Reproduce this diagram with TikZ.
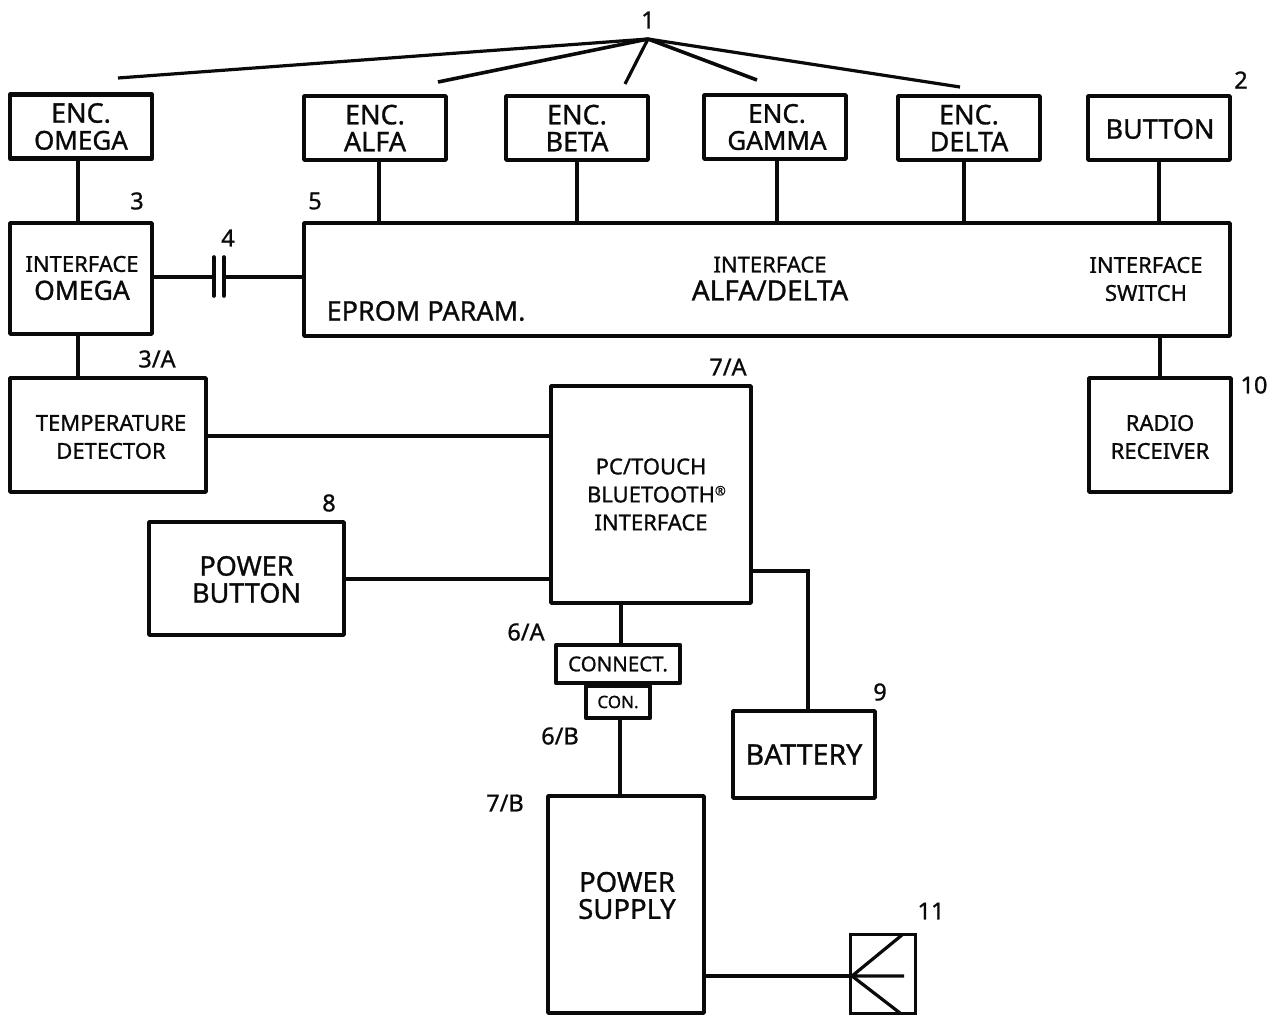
\documentclass[tikz,border=0pt]{standalone}
\usepackage{fontspec}
\setmainfont[RawFeature={embolden=1.0}]{Noto Sans}
\usetikzlibrary{positioning}
\definecolor{Ink}{HTML}{0A0A0A}

\begin{document}
\begin{tikzpicture}[
  x=1pt,y=-1pt,
  node distance=40pt and 40pt,
  box/.style={
    draw=Ink,fill=white,line width=3.5pt,line join=round,inner sep=0pt,outer sep=0pt,
    align=center,text=Ink,font=\fontsize{27}{27}\selectfont
  },
  enc/.style={box,minimum width=142pt,minimum height=64pt},
  small/.style={font=\fontsize{22}{28}\selectfont},
  caption/.style={text=Ink,inner sep=0pt,align=center},
  tag/.style={inner sep=0pt,text=Ink,font=\fontsize{23.5}{24}\selectfont},
  wire/.style={draw=Ink,line width=3.6pt},
  thin/.style={draw=Ink,line width=3.2pt}
]
  \useasboundingbox (0,0) rectangle (1277,1015);

  % top row
  \node[enc,line width=4.2pt] (encomega) at (81,126.5) {ENC.\\{\fontsize{26}{27}\selectfont OMEGA}};
  \node[enc,right=152pt of encomega,yshift=-1.5pt] (encalfa) {ENC.\\ALFA};
  \node[enc,right=60pt of encalfa] (encbeta) {ENC.\\BETA};
  \node[enc,right=56pt of encbeta,yshift=1pt] (encgamma) {};
  \node[caption,font=\fontsize{26}{27}\selectfont] (encgammatext) at ([xshift=2pt]encgamma.center) {ENC.\\GAMMA};
  \node[enc,right=52pt of encgamma,yshift=-1pt] (encdelta) {ENC.\\DELTA};
  \node[enc,right=48pt of encdelta] (button) {};
  \node[caption,font=\fontsize{27}{27}\selectfont] (buttontext) at ([xshift=1pt,yshift=-1pt]button.center) {BUTTON};

  % interfaces
  \node[box,minimum width=142pt,minimum height=111pt] (ifomega) at (81,278.5) {};
  \node[box,minimum width=926pt,minimum height=113pt] (bus) at (767,279.5) {};
  \node[caption,small] (ifomegatext) at (82,278) {INTERFACE\\{\fontsize{26.5}{28}\selectfont OMEGA}};
  \node[caption,small] (ifalfatext) at (770,278.5) {INTERFACE\\{\fontsize{28}{28}\selectfont ALFA/DELTA}};
  \node[caption,small] (ifswitchtext) at (1146,279) {INTERFACE\\SWITCH};
  \node[caption,font=\fontsize{27}{27}\selectfont] (eprom) at (426,311) {EPROM PARAM.};

  % lower blocks
  \node[box,minimum width=196pt,minimum height=114pt] (temp) at (108,435) {};
  \node[caption,small] (temptext) at ([xshift=3pt,yshift=-2pt]temp.center) {TEMPERATURE\\DETECTOR};
  \node[box,small,minimum width=200pt,minimum height=217pt] (pc) at (651,494.5) {PC/TOUCH\\BLUETOOTH\rlap{\raisebox{7pt}{\fontsize{13}{13}\selectfont ®}}\\INTERFACE};
  \node[box,minimum width=195pt,minimum height=113pt] (powerbutton) at (246.5,578.5) {};
  \node[caption,font=\fontsize{27}{27}\selectfont] (powerbuttontext) at ([yshift=-1pt]powerbutton.center) {POWER\\BUTTON};
  \node[box,minimum width=142pt,minimum height=114pt] (radio) at (1160,435) {};
  \node[caption,small] (radiotext) at ([yshift=-2pt]radio.center) {RADIO\\RECEIVER};
  \node[box,line width=4.2pt,minimum width=124pt,minimum height=38pt,font=\fontsize{20.5}{20}\selectfont] (connect) at (618,664) {CONNECT.};
  \node[box,line width=4.2pt,minimum width=64pt,minimum height=32pt,font=\fontsize{17}{20}\selectfont] (con) at (618,702) {CON.};
  \node[box,minimum width=142pt,minimum height=87pt,font=\fontsize{28.5}{28}\selectfont] (battery) at (804,754.5) {BATTERY};
  \node[box,minimum width=156pt,minimum height=217pt] (supply) at (626,904.5) {};
  \node[caption,font=\fontsize{27.5}{27}\selectfont] (supplytext) at ([xshift=1pt,yshift=9pt]supply.center) {POWER\\SUPPLY};
  \node[draw=Ink,line width=3pt,inner sep=0pt,outer sep=0pt,minimum width=65pt,minimum height=79pt] (antenna) at (882.5,973.5) {};

  % top fan
  \coordinate (hub) at (648,39);
  \coordinate (fanomega) at (118,78);
  \coordinate (fanalfa) at (438,82);
  \coordinate (fanbeta) at (625,84);
  \coordinate (fangamma) at (757,80);
  \coordinate (fandelta) at (960,87);
  \draw[thin] (hub) -- (fanomega);
  \draw[wire] (hub) -- (fanalfa);
  \draw[thin] (hub) -- (fanbeta);
  \draw[wire] (hub) -- (fangamma);
  \draw[thin] (hub) -- (fandelta);

  % wires to the bus
  \draw[wire] ([xshift=-3pt]encomega.south) -- ([xshift=-3pt]ifomega.north);
  \draw[wire] ([xshift=4pt]encalfa.south) -- ([xshift=4pt]encalfa.south |- bus.north);
  \draw[wire] (encbeta.south) -- (encbeta.south |- bus.north);
  \draw[wire] ([xshift=2pt]encgamma.south) -- ([xshift=2pt]encgamma.south |- bus.north);
  \draw[wire] ([xshift=-5pt]encdelta.south) -- ([xshift=-5pt]encdelta.south |- bus.north);
  \draw[wire] (button.south) -- (button.south |- bus.north);
  \draw[wire] (bus.south -| radio.north) -- (radio.north);
  \draw[wire] ([xshift=-3pt]ifomega.south) -- ([xshift=-30pt]temp.north);

  % capacitor
  \coordinate (plateleft) at (214,277);
  \coordinate (plateright) at (224,277);
  \draw[wire] (ifomega.east |- plateleft) -- (plateleft);
  \draw[wire] (plateright) -- (bus.west |- plateright);
  \draw[wire,line cap=round] ([yshift=-19pt]plateleft) -- ([yshift=20pt]plateleft);
  \draw[wire,line cap=round] ([yshift=-19pt]plateright) -- ([yshift=20pt]plateright);

  % wires round the interface
  \draw[wire] (temp.east |- 0,436) -- (pc.west |- 0,436);
  \draw[wire] (powerbutton.east |- 0,579) -- (pc.west |- 0,579);
  \draw[wire,line width=4.6pt] (pc.south -| 621,0) -- (connect.north -| 621,0);
  \draw[wire,line width=3.8pt] (con.south -| 620,0) -- (supply.north -| 620,0);
  \draw[thin] (pc.east |- 0,571) -| (battery.north -| 808,0);

  % antenna
  \coordinate (apex) at (852,976);
  \coordinate (rodup) at (902,935);
  \coordinate (rodmid) at (904,976);
  \coordinate (roddown) at (900,1013);
  \draw[thin] (supply.east |- apex) -- (apex);
  \draw[thin] (rodup) -- (apex) -- (rodmid);
  \draw[thin] (apex) -- (roddown);

  % reference numbers
  \node[tag] (tagone) at (648,20) {1};
  \node[tag] (tagtwo) at (1241,80) {2};
  \node[tag] (tagthree) at (137,201) {3};
  \node[tag] (tagthreea) at (157,359) {3/A};
  \node[tag] (tagfour) at (228,238) {4};
  \node[tag] (tagfive) at (315,201) {5};
  \node[tag] (tagsixa) at (526,632) {6/A};
  \node[tag] (tagsixb) at (560,736) {6/B};
  \node[tag] (tagsevena) at (728,367) {7/A};
  \node[tag] (tagsevenb) at (505,803) {7/B};
  \node[tag] (tageight) at (329,503) {8};
  \node[tag] (tagnine) at (880,692) {9};
  \node[tag] (tagten) at (1254,385) {10};
  \node[tag] (tageleven) at (931,911) {11};
\end{tikzpicture}
\end{document}
